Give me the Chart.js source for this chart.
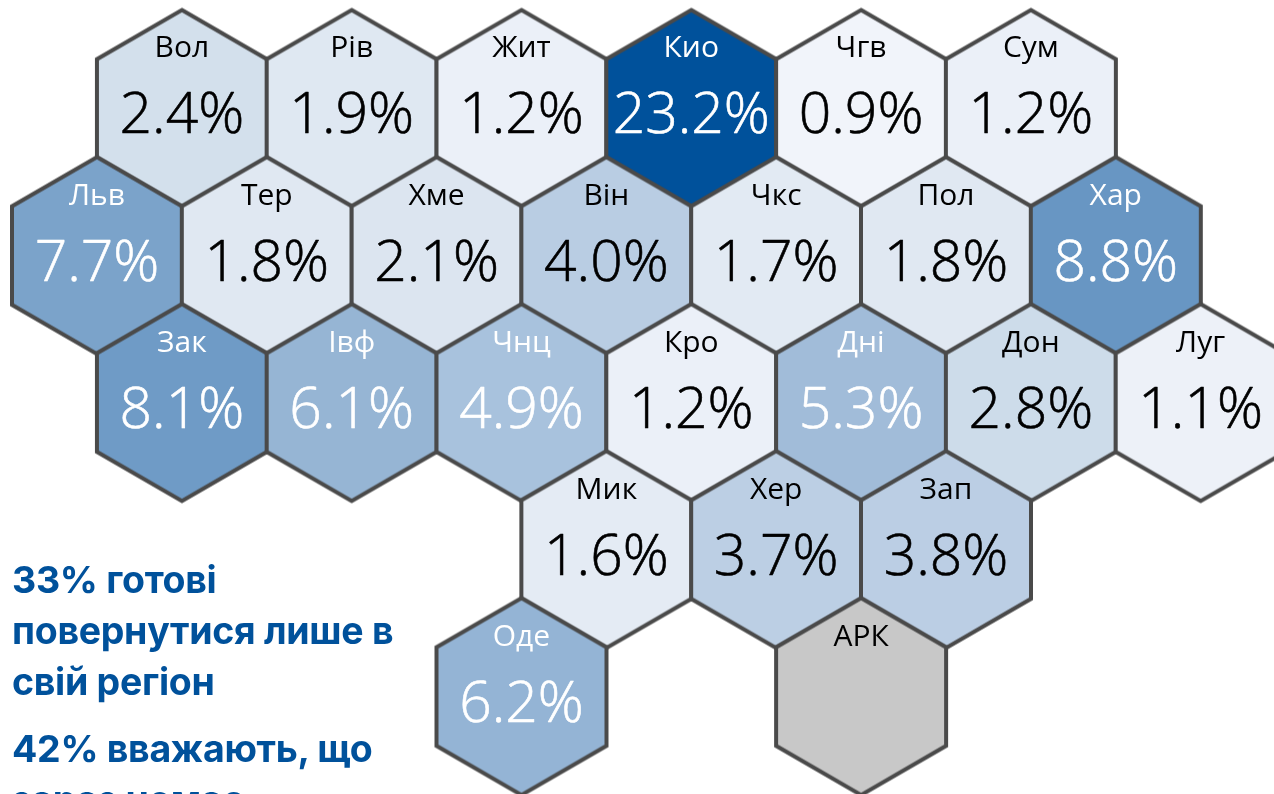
<!DOCTYPE html>
<html lang="uk"><head><meta charset="utf-8">
<script src="https://cdn.jsdelivr.net/npm/chart.js@4"></script>
<style>
html,body{margin:0;padding:0;background:#fff;width:1274px;height:794px;overflow:hidden}
#wrap{position:absolute;left:0;top:0;width:1274px;height:794px}
#note{position:absolute;left:12px;top:554px;width:400px;font:700 37.5px/51px Inter,sans-serif;letter-spacing:-.3px;color:#00519b}
#note p{margin:0 0 16px 0}
</style></head><body>
<div id="wrap"><canvas id="c" width="1274" height="794"></canvas></div>
<div id="note"><p>33% готові повернутися лише в свій регіон</p><p>42% вважають, що зараз немає</p></div>
<script>
const regions=['Вол','Рів','Жит','Кио','Чгв','Сум','Льв','Тер','Хме','Він','Чкс','Пол','Хар','Зак','Івф','Чнц','Кро','Дні','Дон','Луг','Мик','Хер','Зап','Оде','АРК'];
const columns=[1,3,5,7,9,11,0,2,4,6,8,10,12,1,3,5,7,9,11,13,6,8,10,5,9];
const rows=[0,0,0,0,0,0,1,1,1,1,1,1,1,2,2,2,2,2,2,2,3,3,3,4,4];
const shares=[2.4,1.9,1.2,23.2,0.9,1.2,7.7,1.8,2.1,4.0,1.7,1.8,8.8,8.1,6.1,4.9,1.2,5.3,2.8,1.1,1.6,3.7,3.8,6.2,null];
const fills=['#d3e0ec','#dfe8f2','#ebf0f8','#00519b','#f1f4fa','#ebf0f8','#7ba3ca','#e0e8f2','#dce5f0','#b9cde3','#e2eaf3','#e0e8f2','#6896c3','#6f9bc6','#96b5d4','#a8c2dd','#ebf0f8','#a1bcd9','#cddcea','#edf1f8','#e4ebf4','#bccfe4','#bbcee4','#94b4d5','#c8c8c8'];
const lightText=new Set(['Кио','Льв','Хар','Зак','Івф','Чнц','Дні','Оде']);
const fontFam='"Open Sans","Noto Sans",sans-serif';

function hexMark(fill){
  const cv=document.createElement('canvas');cv.width=176;cv.height=204;
  const g=cv.getContext('2d'),cx=88,cy=102,hw=85,r=98.5,sh=49.3;
  g.beginPath();
  g.moveTo(cx,cy-r);g.lineTo(cx+hw,cy-sh);g.lineTo(cx+hw,cy+sh);g.lineTo(cx,cy+r);g.lineTo(cx-hw,cy+sh);g.lineTo(cx-hw,cy-sh);g.closePath();
  g.fillStyle=fill;g.fill();g.lineWidth=4;g.strokeStyle='#4a4a4a';g.lineJoin='miter';g.stroke();
  return cv;
}
const marks=fills.map(hexMark);

const hexLabels={id:'hexLabels',afterDatasetsDraw(chart){
  const {ctx,scales:{x,y}}=chart;
  ctx.save();ctx.textAlign='center';ctx.textBaseline='alphabetic';ctx.lineJoin='round';
  regions.forEach((name,i)=>{
    const px=x.getPixelForValue(columns[i]),py=y.getPixelForValue(rows[i]);
    const ink=lightText.has(name)?'#ffffff':'#000000';
    ctx.fillStyle=ink;ctx.strokeStyle=ink;
    ctx.font='400 30px '+fontFam;
    ctx.fillText(name,px,py-51);
    if(shares[i]!==null){
      ctx.font='300 57px '+fontFam;ctx.lineWidth=.6;
      const t=shares[i].toFixed(1)+'%';
      ctx.fillText(t,px,py+25);ctx.strokeText(t,px,py+25);
    }
  });
  ctx.restore();
}};

new Chart(document.getElementById('c'),{
  type:'scatter',
  data:{labels:regions,datasets:[{
    data:regions.map((_,i)=>({x:columns[i],y:rows[i]})),
    pointStyle:c=>marks[c.dataIndex],
    pointRadius:85,pointHoverRadius:85,clip:false
  }]},
  options:{
    responsive:false,animation:false,
    layout:{padding:0,autoPadding:false},
    plugins:{legend:{display:false},tooltip:{enabled:false}},
    events:[],
    scales:{
      x:{type:'linear',display:false,min:-1.1425,max:13.864},
      y:{type:'linear',display:false,reverse:true,min:-0.738,max:4.663}
    }
  },
  plugins:[hexLabels]
});
</script>
</body></html>
